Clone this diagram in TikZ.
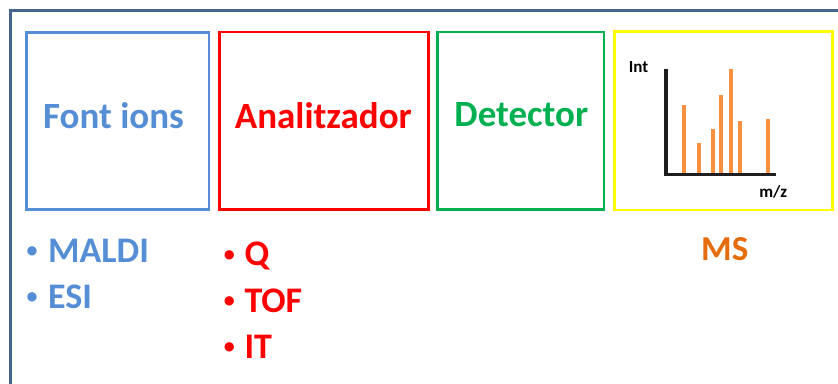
\documentclass[tikz,border=0pt]{standalone}
\usepackage{fontspec}
\setmainfont{Carlito}
\definecolor{framec}{HTML}{44648E}
\definecolor{srcblue}{HTML}{558ED5}
\definecolor{anared}{HTML}{FF0000}
\definecolor{detgreen}{HTML}{00B050}
\definecolor{msyellow}{HTML}{FFFF00}
\definecolor{msorange}{HTML}{E46C0A}
\definecolor{peak}{HTML}{F7913F}
\definecolor{axisc}{HTML}{1E1E1E}
\tikzset{
  stage/.style={draw, line width=2.6pt, inner sep=0pt, minimum width=#1},
  title/.style={anchor=base, font=\fontsize{37}{44}\selectfont\bfseries, inner sep=0pt},
  item/.style={anchor=base west, font=\fontsize{36}{43}\selectfont\bfseries, inner sep=0pt},
  dot/.style={anchor=base, font=\fontsize{22}{26}\selectfont\bfseries, inner sep=0pt},
  small/.style={anchor=base, font=\fontsize{17}{20}\selectfont\bfseries, inner sep=0pt, text=black},
  peakbar/.style={draw=peak, line width=4.2pt},
  axisline/.style={draw=axisc, line width=3.6pt}
}
\begin{document}
\begin{tikzpicture}[x=1pt, y=-1pt]
\useasboundingbox (0,0) rectangle (838,383);
\clip (0,0) rectangle (838,383);
% outer frame, running off the right and bottom edges
\draw[framec, line width=3pt] (10.5,450) -- (10.5,10.5) -- (900,10.5);

% the four stages of the instrument
\node[stage=182.5pt, minimum height=177pt, draw=srcblue] (src) at (117.75,121) {};
\node[stage=209.2pt, minimum height=177.3pt, draw=anared] (ana) at (324.1,120.65) {};
\node[stage=166.7pt, minimum height=177.2pt, draw=detgreen] (det) at (520.65,120.6) {};
\node[stage=217.6pt, minimum height=178.3pt, draw=msyellow] (spec) at (723.5,120.65) {};

\node[title, text=srcblue] (srct) at (113.5,128.3) {Font ions};
\node[title, text=anared] (anat) at (323.3,128.3) {Analitzador};
\node[title, text=detgreen] (dett) at (521.3,126) {Detector};

% small mass spectrum
\foreach \x/\t in {684/105, 699.3/142.7, 712.7/129, 720.7/95, 731/69, 740/121, 768.3/118.7}
  \draw[peakbar] (\x,173) -- (\x,\t);
\draw[axisline] (666,69) -- (666,174.5) -- (776,174.5);
\node[small] (int) at (638.5,72.7) {Int};
\node[small] (mz) at (773.3,197.3) {m/z};

% ion sources
\node[dot, text=srcblue] (b1) at (32,257.8) {•};
\node[item, text=srcblue] (maldi) at (48,262.7) {MALDI};
\node[dot, text=srcblue] (b2) at (32,303.6) {•};
\node[item, text=srcblue] (esi) at (48,308.3) {ESI};

% analysers
\node[dot, text=anared] (b3) at (229.3,261.1) {•};
\node[item, text=anared] (q) at (244.3,265) {Q};
\node[dot, text=anared] (b4) at (229.3,307.1) {•};
\node[item, text=anared] (tof) at (244.3,312.7) {TOF};
\node[dot, text=anared] (b5) at (229.3,353.5) {•};
\node[item, text=anared] (it) at (244.3,358.3) {IT};

\node[anchor=base, font=\fontsize{35}{42}\selectfont\bfseries, inner sep=0pt, text=msorange] (ms) at (724.8,260) {MS};
\end{tikzpicture}
\end{document}
